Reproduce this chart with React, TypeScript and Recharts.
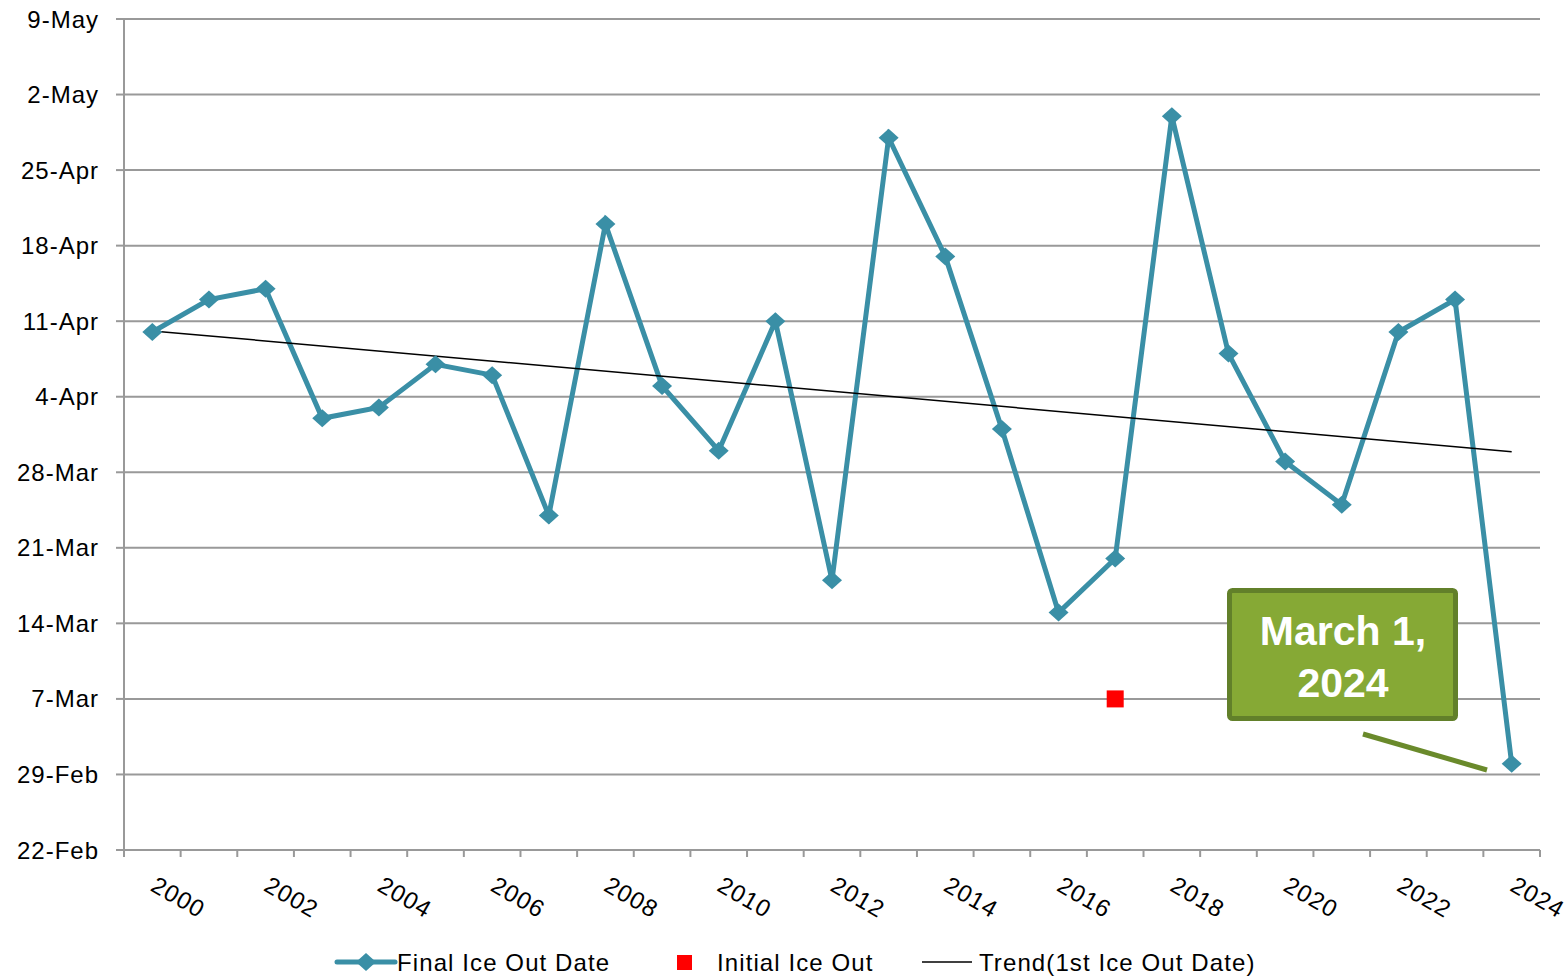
import React from 'react';
import { ComposedChart, Line, XAxis, YAxis, CartesianGrid, Legend } from 'recharts';

const years = [2000, 2001, 2002, 2003, 2004, 2005, 2006, 2007, 2008, 2009, 2010, 2011, 2012, 2013, 2014, 2015, 2016, 2017, 2018, 2019, 2020, 2021, 2022, 2023, 2024];
// y tick labels: one per week starting 22-Feb (days after 22-Feb)
const yTickLabels = ['22-Feb', '29-Feb', '7-Mar', '14-Mar', '21-Mar', '28-Mar', '4-Apr', '11-Apr', '18-Apr', '25-Apr', '2-May', '9-May'];
const yTickValues = [0, 7, 14, 21, 28, 35, 42, 49, 56, 63, 70, 77];
// values: days after 22-Feb
const finalIceOut = [48, 51, 52, 40, 41, 45, 44, 31, 58, 43, 37, 49, 25, 66, 55, 39, 22, 27, 68, 46, 36, 32, 48, 51, 8];
const initialIceOut = [null, null, null, null, null, null, null, null, null, null, null, null, null, null, null, null, null, 14, null, null, null, null, null, null, null];
const trendIceOut = [48.1, null, null, null, null, null, null, null, null, null, null, null, null, null, null, null, null, null, null, null, null, null, null, null, 36.9];
const xBoundaryTicks = [-0.5, 0.5, 1.5, 2.5, 3.5, 4.5, 5.5, 6.5, 7.5, 8.5, 9.5, 10.5, 11.5, 12.5, 13.5, 14.5, 15.5, 16.5, 17.5, 18.5, 19.5, 20.5, 21.5, 22.5, 23.5, 24.5];

const data = years.map((y, i) => ({
  idx: i,
  year: y,
  final: finalIceOut[i],
  initial: initialIceOut[i],
  trend: trendIceOut[i],
}));

const TEAL = '#3a8fa6';
const GRID = '#999999';
const FONT = '"Liberation Sans", Arial, sans-serif';

const W = 1568;
const H = 977;
const PLOT_LEFT = 124;
const PLOT_RIGHT = 1540;
const STEP = (PLOT_RIGHT - PLOT_LEFT) / years.length;

const Diamond = (props: any) => {
  const { cx, cy, value } = props;
  if (value == null || cx == null || cy == null) return null;
  return <path d={`M${cx - 10},${cy} L${cx},${cy - 9} L${cx + 10},${cy} L${cx},${cy + 9} Z`} fill={TEAL} stroke="none" />;
};

const Square = (props: any) => {
  const { cx, cy, value } = props;
  if (value == null || cx == null || cy == null) return null;
  return <rect x={cx - 8.5} y={cy - 8.5} width={17} height={17} fill="#ff0000" />;
};

const XTick = (props: any) => {
  const { x, y, payload } = props;
  const i = payload.value + 0.5;
  if (i > 24 || i % 2 !== 0) return null;
  const lx = x + STEP / 2 - 3;
  const ly = y + 33;
  return (
    <text x={lx} y={ly} transform={`rotate(30, ${lx}, ${ly})`} textAnchor="start" fontSize={24} letterSpacing={1} fontFamily={FONT} fill="#000">
      {years[i]}
    </text>
  );
};

const LegendContent = () => (
  <svg width={W} height={40} style={{ display: 'block' }}>
    <g fontFamily={FONT} fontSize={24} letterSpacing={1.1} fill="#000">
      <line x1={337} y1={25} x2={395} y2={25} stroke={TEAL} strokeWidth={5} strokeLinecap="round" />
      <path d="M356,25 L366,16 L376,25 L366,34 Z" fill={TEAL} />
      <text x={397} y={34}>Final Ice Out Date</text>
      <rect x={677} y={18} width={15} height={15} fill="#ff0000" />
      <text x={717} y={34}>Initial Ice Out</text>
      <line x1={922} y1={25} x2={972} y2={25} stroke="#000" strokeWidth={1.5} />
      <text x={979} y={34}>Trend(1st Ice Out Date)</text>
    </g>
  </svg>
);

export default function App() {
  return (
    <div style={{ position: 'absolute', left: 0, top: 0, width: W, height: H, background: '#fff' }}>
      <ComposedChart width={W} height={H} data={data} margin={{ top: 19, right: W - PLOT_RIGHT, left: 0, bottom: 0 }}>
        <CartesianGrid vertical={false} stroke={GRID} strokeWidth={2} />
        <XAxis
          dataKey="idx"
          type="number"
          domain={[-0.5, 24.5]}
          ticks={xBoundaryTicks}
          interval={0}
          height={87}
          tickSize={7}
          tickMargin={0}
          axisLine={{ stroke: GRID, strokeWidth: 2 }}
          tickLine={{ stroke: GRID, strokeWidth: 2 }}
          tick={<XTick />}
        />
        <YAxis
          type="number"
          domain={[0, 77]}
          ticks={yTickValues}
          interval={0}
          width={PLOT_LEFT}
          tickSize={8}
          tickMargin={17}
          tickFormatter={(v: number) => yTickLabels[yTickValues.indexOf(v)]}
          axisLine={{ stroke: GRID, strokeWidth: 2 }}
          tickLine={{ stroke: GRID, strokeWidth: 2 }}
          tick={{ fontSize: 24, fill: '#000', fontFamily: FONT, letterSpacing: 1 }}
        />
        <Line dataKey="final" name="Final Ice Out Date" stroke={TEAL} strokeWidth={5} dot={<Diamond />} activeDot={false} isAnimationActive={false} />
        <Line dataKey="initial" name="Initial Ice Out" stroke="none" dot={<Square />} activeDot={false} isAnimationActive={false} />
        <Line dataKey="trend" name="Trend(1st Ice Out Date)" stroke="#000" strokeWidth={1.5} dot={false} activeDot={false} connectNulls isAnimationActive={false} />
        <Legend verticalAlign="bottom" height={40} content={<LegendContent />} wrapperStyle={{ left: 0, bottom: 0, width: W, height: 40 }} />
      </ComposedChart>
      <svg width={W} height={H} style={{ position: 'absolute', left: 0, top: 0, pointerEvents: 'none' }}>
        <line x1={1363} y1={734} x2={1487} y2={770} stroke="#6a8a2b" strokeWidth={5} />
        <rect x={1229.5} y={590.5} width={226} height={128} rx={3} fill="#86a935" stroke="#62802a" strokeWidth={5} />
        <g fontFamily={FONT} fontWeight="bold" fontSize={41} fill="#fff" textAnchor="middle">
          <text x={1343} y={645}>March 1,</text>
          <text x={1343} y={697}>2024</text>
        </g>
      </svg>
    </div>
  );
}
